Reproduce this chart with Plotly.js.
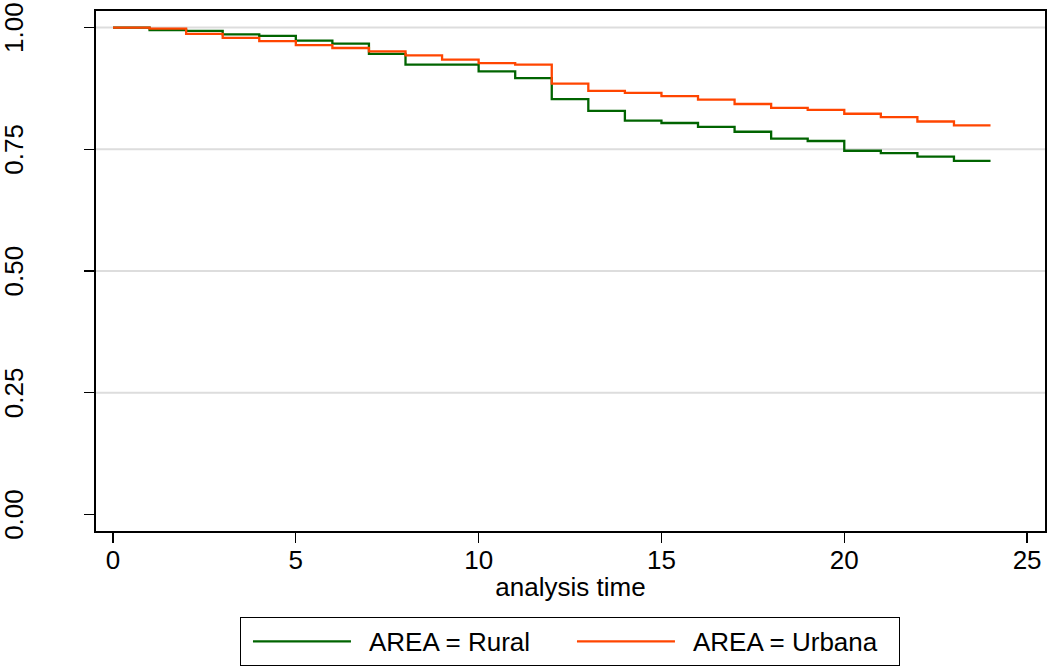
<!DOCTYPE html>
<html>
<head>
<meta charset="utf-8">
<script src="https://cdn.plot.ly/plotly-3.0.1.min.js"></script>
<style>
  html, body { margin: 0; padding: 0; background: #fff; }
  #chart { width: 1047px; height: 669px; }
</style>
</head>
<body>
<div id="chart"></div>
<script>
// analysis time (months)
const time = [0,1,2,3,4,5,6,7,8,9,10,11,12,13,14,15,16,17,18,19,20,21,22,23,24];
// Kaplan-Meier survival, AREA = Rural
const rural = [1.000,0.995,0.993,0.986,0.983,0.973,0.967,0.946,0.924,0.924,0.910,0.896,0.853,0.829,0.809,0.804,0.796,0.786,0.772,0.767,0.747,0.742,0.735,0.726,0.726];
// Kaplan-Meier survival, AREA = Urbana
const urbana = [1.000,0.998,0.987,0.979,0.972,0.964,0.958,0.951,0.943,0.934,0.927,0.924,0.885,0.870,0.866,0.859,0.852,0.843,0.835,0.831,0.823,0.816,0.807,0.799,0.799];

const seriesNames = ["AREA = Rural", "AREA = Urbana"];
const xTicks = [0,5,10,15,20,25];
const yTicks = [0,0.25,0.5,0.75,1];
const yTickLabels = ["0.00","0.25","0.50","0.75","1.00"];
const gridVals = [0.25,0.5,0.75,1];
const xTitle = "analysis time";

const FONT = "Liberation Sans, Arial, sans-serif";

const traces = [
  { x: time, y: rural, name: seriesNames[0], type: "scatter", mode: "lines",
    line: { shape: "hv", color: "rgb(0,100,0)", width: 2.3 }, hoverinfo: "skip" },
  { x: time, y: urbana, name: seriesNames[1], type: "scatter", mode: "lines",
    line: { shape: "hv", color: "rgb(255,69,0)", width: 2.3 }, hoverinfo: "skip",
    legendwidth: 201 }
];

const shapes = gridVals.map(v => ({
  type: "line", xref: "paper", yref: "y", x0: 0, x1: 1, y0: v, y1: v,
  line: { color: "#dddddd", width: 2 }, layer: "below"
}));

const layout = {
  width: 1047, height: 669,
  margin: { l: 96, r: 2, t: 11, b: 138, pad: 0 },
  paper_bgcolor: "#ffffff", plot_bgcolor: "#ffffff",
  font: { family: FONT, size: 26, color: "#000" },
  showlegend: true,
  xaxis: {
    range: [-0.465, 25.49], tickvals: xTicks, ticktext: xTicks.map(String),
    showgrid: false, zeroline: false,
    showline: true, mirror: true, linecolor: "#000", linewidth: 1.6,
    ticks: "outside", ticklen: 10, tickwidth: 1.3, tickcolor: "#000",
    ticklabelstandoff: -5,
    tickfont: { family: FONT, size: 26, color: "#000" },
    title: { text: xTitle, font: { family: FONT, size: 26, color: "#000" }, standoff: 4 }
  },
  yaxis: {
    range: [-0.034, 1.034], tickvals: yTicks, ticktext: yTickLabels,
    showgrid: false, zeroline: false,
    showline: true, mirror: true, linecolor: "#000", linewidth: 1.6,
    ticks: "outside", ticklen: 10, tickwidth: 1.3, tickcolor: "#000",
    tickangle: -90, ticklabelstandoff: 51, ticklabelshift: 4,
    ticklabeloverflow: "allow",
    tickfont: { family: FONT, size: 26, color: "#000" }
  },
  shapes: shapes,
  legend: {
    orientation: "h", x: 0.1517, xanchor: "left", y: -0.1653, yanchor: "top",
    bordercolor: "#000", borderwidth: 1, bgcolor: "#fff",
    itemwidth: 118, entrywidth: 191, traceorder: "normal",
    font: { family: FONT, size: 26, color: "#000" }
  }
};

Plotly.newPlot("chart", traces, layout, { staticPlot: true, displayModeBar: false }).then(() => {
  document.querySelectorAll(".legend .legendlines path").forEach(p => p.setAttribute("d", "M12,0h98"));
});
</script>
</body>
</html>
